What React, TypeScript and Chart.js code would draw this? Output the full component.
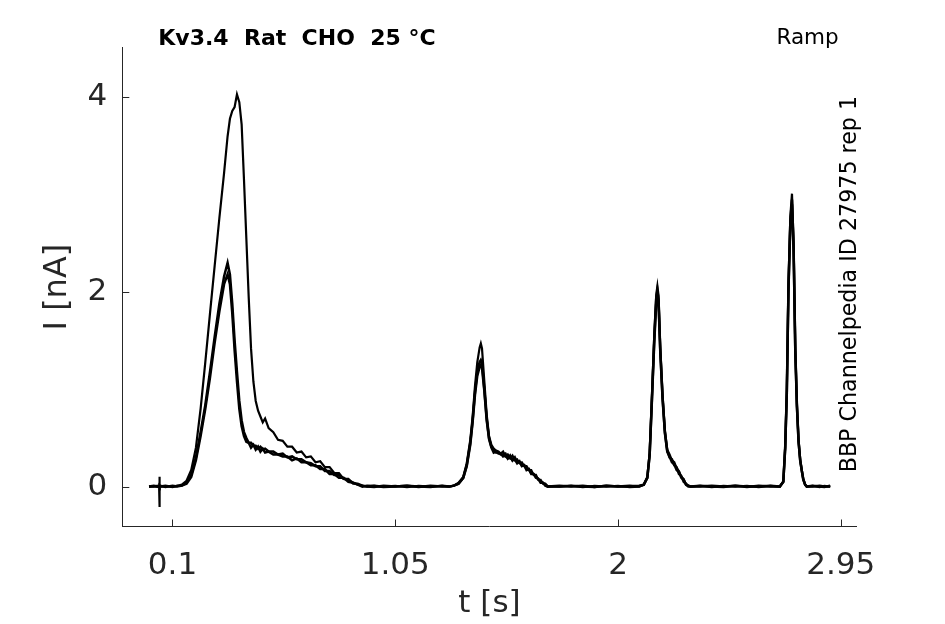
import React, { useEffect, useRef } from "react";
import { Chart, registerables } from "chart.js";

Chart.register(...registerables);

// ---- data (time in s, current in nA) ----
const timeS = [
  // baseline + artifact
  0, 0.02, 0.04, 0.043, 0.044, 0.045, 0.046, 0.048, 0.07, 0.1, 0.12,
  // ramp 1
  0.14, 0.16, 0.18, 0.2, 0.22, 0.24, 0.26, 0.28, 0.3, 0.32,
  0.335, 0.345, 0.355, 0.365, 0.375, 0.385, 0.395, 0.405, 0.415, 0.425,
  0.435, 0.445, 0.455, 0.465, 0.475, 0.485, 0.495, 0.51, 0.53, 0.55,
  0.57, 0.59, 0.61, 0.63, 0.65, 0.67, 0.69, 0.71, 0.73, 0.75,
  0.77, 0.79, 0.81, 0.83, 0.85, 0.87, 0.89, 0.91, 0.93, 0.96,
  1.0, 1.05, 1.1, 1.15, 1.2, 1.25, 1.28,
  // ramp 2
  1.3, 1.32, 1.34, 1.355, 1.37, 1.38, 1.39, 1.4, 1.41, 1.415,
  1.42, 1.43, 1.44, 1.45, 1.46, 1.47, 1.48, 1.49, 1.5, 1.51,
  1.52, 1.53, 1.54, 1.55, 1.56, 1.57, 1.58, 1.59, 1.6, 1.61,
  1.62, 1.63, 1.64, 1.65, 1.66, 1.67, 1.68, 1.69, 1.7, 1.75,
  1.8, 1.85, 1.9, 1.95, 2.0, 2.05, 2.09,
  // ramp 3
  2.11, 2.125, 2.135, 2.145, 2.155, 2.163, 2.168, 2.173, 2.18, 2.19,
  2.2, 2.21, 2.22, 2.23, 2.24, 2.25, 2.26, 2.27, 2.28, 2.29,
  2.3, 2.31, 2.35, 2.4, 2.45, 2.5, 2.55, 2.6, 2.65, 2.69,
  // ramp 4
  2.705, 2.713, 2.72, 2.727, 2.735, 2.742, 2.749, 2.756, 2.763, 2.77,
  2.777, 2.784, 2.79, 2.798, 2.805, 2.83, 2.86, 2.88, 2.905,
];

const sweep1 = [
  0, 0.005, -0.005, 0, 0.1, -0.21, 0.02, 0, 0.005, 0, 0.005,
  0.02, 0.06, 0.17, 0.4, 0.8, 1.28, 1.78, 2.27, 2.76, 3.22,
  3.6, 3.78, 3.86, 3.9, 4.03, 3.95, 3.72, 3.15, 2.55, 1.95,
  1.42, 1.08, 0.88, 0.78, 0.72, 0.66, 0.7, 0.6, 0.56, 0.48,
  0.47, 0.41, 0.41, 0.35, 0.36, 0.3, 0.31, 0.25, 0.26, 0.2,
  0.2, 0.14, 0.14, 0.08, 0.08, 0.03, 0.03, 0.01, 0, 0.01,
  0, 0.008, -0.005, 0.008, 0, 0.008, 0,
  0.01, 0.04, 0.1, 0.24, 0.48, 0.72, 1.03, 1.28, 1.43, 1.47,
  1.42, 1.08, 0.74, 0.52, 0.43, 0.39, 0.37, 0.36, 0.34, 0.36,
  0.31, 0.33, 0.29, 0.32, 0.27, 0.28, 0.24, 0.25, 0.21, 0.21,
  0.17, 0.17, 0.12, 0.12, 0.07, 0.07, 0.03, 0.03, 0.005, 0,
  0.008, -0.005, 0.008, 0, 0.008, -0.005, 0,
  0.02, 0.1, 0.35, 0.95, 1.58, 1.97, 2.06, 1.96, 1.45, 0.95,
  0.58, 0.38, 0.33, 0.27, 0.25, 0.19, 0.16, 0.1, 0.08, 0.02,
  0.01, 0, 0.008, -0.005, 0.008, 0, 0.008, -0.005, 0.008, 0,
  0.05, 0.41, 1.0, 2.1, 2.78, 3.01, 2.5, 1.44, 0.85, 0.48,
  0.28, 0.17, 0.08, 0.02, 0, 0.008, -0.005, 0.008, 0,
];

const sweep2 = [
  0, 0, 0.008, 0, 0, 0, 0, 0.008, -0.005, 0.008, 0,
  0.01, 0.04, 0.12, 0.3, 0.56, 0.84, 1.18, 1.54, 1.88, 2.16,
  2.3, 2.18, 1.88, 1.5, 1.18, 0.88, 0.68, 0.56, 0.5, 0.45,
  0.45, 0.42, 0.42, 0.39, 0.41, 0.38, 0.39, 0.36, 0.36, 0.33,
  0.34, 0.3, 0.31, 0.28, 0.28, 0.25, 0.24, 0.21, 0.21, 0.16,
  0.16, 0.12, 0.12, 0.08, 0.07, 0.04, 0.02, 0.01, 0, -0.005,
  0.008, 0, 0.008, -0.005, 0.008, 0, 0,
  0.01, 0.03, 0.09, 0.22, 0.45, 0.68, 0.97, 1.18, 1.28, 1.3,
  1.27, 1.0, 0.7, 0.5, 0.41, 0.38, 0.35, 0.35, 0.33, 0.33,
  0.34, 0.29, 0.32, 0.27, 0.3, 0.25, 0.25, 0.22, 0.22, 0.18,
  0.18, 0.14, 0.13, 0.1, 0.08, 0.05, 0.04, 0.02, 0, 0.008,
  0, 0.008, -0.005, 0.008, 0, 0.008, 0,
  0.02, 0.09, 0.33, 0.92, 1.54, 1.93, 2.02, 1.92, 1.42, 0.92,
  0.56, 0.37, 0.3, 0.28, 0.22, 0.2, 0.13, 0.11, 0.05, 0.03,
  0.01, 0, 0, 0.008, 0, 0.008, -0.005, 0.008, 0, 0,
  0.05, 0.4, 0.98, 2.05, 2.72, 2.95, 2.45, 1.42, 0.84, 0.47,
  0.27, 0.16, 0.08, 0.02, 0, 0, 0.008, 0, 0,
];

const sweep3 = [
  0, 0.008, 0, 0.008, 0, 0, 0.008, 0, 0.008, -0.005, 0.008,
  0.01, 0.03, 0.1, 0.27, 0.52, 0.8, 1.12, 1.48, 1.8, 2.08,
  2.18, 2.08, 1.78, 1.4, 1.08, 0.8, 0.62, 0.52, 0.46, 0.45,
  0.4, 0.43, 0.38, 0.41, 0.36, 0.39, 0.35, 0.36, 0.33, 0.33,
  0.31, 0.31, 0.27, 0.29, 0.25, 0.25, 0.22, 0.22, 0.18, 0.18,
  0.13, 0.13, 0.09, 0.09, 0.05, 0.04, 0.02, 0, 0.008, 0.005,
  -0.005, 0, 0.008, 0, -0.005, 0.008, 0,
  0.01, 0.03, 0.09, 0.21, 0.43, 0.66, 0.94, 1.14, 1.23, 1.25,
  1.22, 0.98, 0.68, 0.49, 0.4, 0.35, 0.36, 0.34, 0.34, 0.31,
  0.32, 0.29, 0.3, 0.27, 0.28, 0.24, 0.26, 0.21, 0.22, 0.17,
  0.18, 0.13, 0.13, 0.09, 0.08, 0.04, 0.04, 0.01, 0, 0,
  0.008, 0, -0.005, 0.008, 0, 0, 0.008,
  0.02, 0.09, 0.32, 0.9, 1.5, 1.88, 1.98, 1.88, 1.4, 0.9,
  0.55, 0.36, 0.31, 0.25, 0.23, 0.17, 0.15, 0.09, 0.07, 0.02,
  0, 0, 0.008, 0, -0.005, 0.008, 0, 0, 0.008, 0,
  0.05, 0.39, 0.96, 2.02, 2.68, 2.9, 2.42, 1.4, 0.82, 0.46,
  0.27, 0.16, 0.07, 0.02, 0, 0.008, 0, -0.005, 0.008,
];

const sweeps = [sweep1, sweep2, sweep3];

const xTickValues = [0.1, 1.05, 2, 2.95];
const xTickLabels = ["0.1", "1.05", "2", "2.95"];
const yTickValues = [0, 2, 4];
const yTickLabels = ["0", "2", "4"];

const titleText = "Kv3.4  Rat  CHO  25 °C";
const protocolText = "Ramp";
const sideText = "BBP Channelpedia ID 27975 rep 1";
const xAxisTitle = "t [s]";
const yAxisTitle = "I [nA]";

const FONT = "'DejaVu Sans', 'Noto Sans', sans-serif";
const INK = "#262626";

const decorPlugin = {
  id: "decor",
  afterDraw(chart: any) {
    const ctx = chart.ctx as CanvasRenderingContext2D;
    const area = chart.chartArea;
    const xs = chart.scales.x;
    const ys = chart.scales.y;
    ctx.save();
    // inward ticks
    ctx.strokeStyle = INK;
    ctx.lineWidth = 1;
    ctx.beginPath();
    xTickValues.forEach((v) => {
      const px = Math.round(xs.getPixelForValue(v)) + 0.5;
      ctx.moveTo(px, area.bottom);
      ctx.lineTo(px, area.bottom - 7);
    });
    yTickValues.forEach((v) => {
      const py = Math.round(ys.getPixelForValue(v)) + 0.5;
      ctx.moveTo(area.left, py);
      ctx.lineTo(area.left + 7, py);
    });
    ctx.stroke();

    // texts
    ctx.fillStyle = "#000";
    ctx.textBaseline = "middle";
    ctx.font = `bold 22px ${FONT}`;
    ctx.textAlign = "left";
    ctx.fillText(titleText, area.left + 36, area.top - 8.5);
    ctx.font = `21.5px ${FONT}`;
    ctx.textAlign = "right";
    ctx.fillText(protocolText, area.right - 18, area.top - 9.5);

    ctx.font = `22.2px ${FONT}`;
    ctx.translate(area.right - 6, (area.top + area.bottom) / 2 - 3);
    ctx.rotate(-Math.PI / 2);
    ctx.textAlign = "center";
    ctx.fillText(sideText, 0, 0);
    ctx.restore();
  },
};

export default function App() {
  const canvasRef = useRef<HTMLCanvasElement | null>(null);

  useEffect(() => {
    if (!canvasRef.current) return;
    Chart.defaults.font.family = FONT;
    Chart.defaults.color = INK;

    const datasets = sweeps.map((s, i) => ({
      label: `sweep ${i + 1}`,
      data: timeS.map((t, k) => ({ x: t, y: s[k] })),
      borderColor: "#000",
      borderWidth: i === 0 ? 2.2 : 2.5,
      pointRadius: 0,
      fill: false,
      tension: 0,
    }));

    const chart = new Chart(canvasRef.current, {
      type: "line",
      data: { datasets },
      plugins: [decorPlugin],
      options: {
        animation: false,
        responsive: true,
        maintainAspectRatio: false,
        parsing: false as any,
        layout: { padding: { top: 47.7, right: 88.3, left: 0, bottom: 0 } },
        plugins: {
          legend: { display: false },
          tooltip: { enabled: false },
          title: { display: false },
        },
        scales: {
          x: {
            type: "linear",
            min: -0.114,
            max: 3.018,
            grid: { display: false },
            border: { display: true, color: INK, width: 1 },
            afterBuildTicks: (scale: any) => {
              scale.ticks = xTickValues.map((v) => ({ value: v }));
            },
            afterFit: (scale: any) => {
              scale.height = 97.5;
            },
            ticks: {
              color: INK,
              padding: 13,
              maxRotation: 0,
              autoSkip: false,
              font: { size: 31 },
              callback: (value: any) => {
                const idx = xTickValues.findIndex((v) => Math.abs(v - Number(value)) < 1e-9);
                return idx >= 0 ? xTickLabels[idx] : "";
              },
            },
            title: {
              display: true,
              text: xAxisTitle,
              color: INK,
              font: { size: 31 },
              padding: { top: 0, bottom: 1 },
            },
          },
          y: {
            type: "linear",
            min: -0.41,
            max: 4.51,
            grid: { display: false },
            border: { display: true, color: INK, width: 1 },
            afterBuildTicks: (scale: any) => {
              scale.ticks = yTickValues.map((v) => ({ value: v }));
            },
            afterFit: (scale: any) => {
              scale.width = 122.3;
            },
            ticks: {
              color: INK,
              padding: 7,
              autoSkip: false,
              font: { size: 31 },
              callback: (value: any) => {
                const idx = yTickValues.findIndex((v) => Math.abs(v - Number(value)) < 1e-9);
                return idx >= 0 ? yTickLabels[idx] : "";
              },
            },
            title: {
              display: true,
              text: yAxisTitle,
              color: INK,
              font: { size: 32 },
              padding: { top: 38.8, bottom: 0 },
            },
          },
        },
      },
    });
    return () => chart.destroy();
  }, []);

  return (
    <div style={{ position: "fixed", left: 0, top: 0, width: 945, height: 624, background: "#fff" }}>
      <canvas ref={canvasRef} />
    </div>
  );
}
